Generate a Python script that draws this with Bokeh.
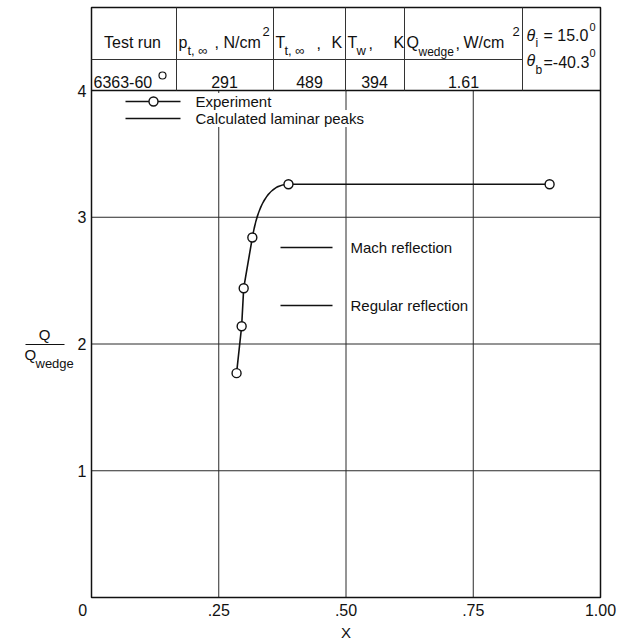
from bokeh.plotting import figure
from bokeh.models import Range1d, FixedTicker, Label
from bokeh.core.properties import value
from bokeh.embed import file_html
from bokeh.resources import INLINE

# ---------------- data ----------------
x_exp = [0.285, 0.295, 0.299, 0.316, 0.387, 0.900]
y_exp = [1.77, 2.14, 2.44, 2.84, 3.26, 3.26]
x_ticks = [0, 0.25, 0.5, 0.75, 1]
x_tick_labels = ["0\u2007\u2007", ".25", ".50", ".75", "1.00"]
y_ticks = [1, 2, 3, 4]
grid_x = [0.25, 0.5, 0.75]
grid_y = [1, 2, 3]

test_run = "6363-60"
p_total = 291
T_total = 489
T_wall = 394
Q_wedge = 1.61
theta_i = 15.0
theta_b = -40.3
legend_labels = ["Experiment", "Calculated laminar peaks",
                 "Mach reflection", "Regular reflection"]

# ---------------- layout helpers (canvas pixels -> data) ----------------
W, H = 618, 644
FL, FR, FB = 91, 600, 597      # plot box in canvas pixels
PXY = 126.75                   # pixels per y unit
PXX = FR - FL                  # pixels per x unit
def dx(px):
    return (px - FL) / PXX
def dy(py):
    return (FB - py) / PXY
TABLE_TOP = dy(7)

FONT = "Liberation Sans"
INK = "#111111"
GRID = "#2a2a2a"

p = figure(frame_width=W, frame_height=H,
           min_border_left=0, min_border_right=0,
           min_border_top=0, min_border_bottom=0,
           x_range=Range1d(dx(0), dx(W)), y_range=Range1d(dy(H), dy(0)),
           output_backend="svg", toolbar_location=None,
           background_fill_color="white", border_fill_color="white")
p.outline_line_color = None
p.xgrid.visible = False
p.ygrid.visible = False

# axes at fixed locations (the plot box corner)
for ax in (p.xaxis, p.yaxis):
    ax.fixed_location = 0
    ax.axis_line_color = None
    ax.major_tick_in = 0
    ax.major_tick_out = 0
    ax.minor_tick_in = 0
    ax.minor_tick_out = 0
    ax.major_label_text_font = FONT
    ax.major_label_text_font_size = "16px"
    ax.major_label_text_color = INK
p.xaxis.ticker = FixedTicker(ticks=x_ticks)
p.xaxis.major_label_overrides = dict(zip(x_ticks, x_tick_labels))
p.xaxis.major_label_standoff = 4
p.yaxis.ticker = FixedTicker(ticks=y_ticks)
p.yaxis.major_label_standoff = 5

# grid lines inside the plot box
p.segment(x0=grid_x, y0=[0] * len(grid_x), x1=grid_x, y1=[4] * len(grid_x),
          line_color=GRID, line_width=1)
p.segment(x0=[0] * len(grid_y), y0=grid_y, x1=[1] * len(grid_y), y1=grid_y,
          line_color=GRID, line_width=1)

# plot box + table frame
p.quad(left=[0], right=[1], bottom=[0], top=[TABLE_TOP], fill_color=None,
       line_color=INK, line_width=1.5)
p.segment(x0=[0], y0=[4], x1=[1], y1=[4], line_color=INK, line_width=1.5)

# ---------------- table ----------------
col_px = [176, 273, 345, 404]
theta_px = 522
row_px = 59
tl = "#333333"
p.segment(x0=[0], y0=[dy(row_px)], x1=[dx(theta_px)], y1=[dy(row_px)],
          line_color=tl, line_width=1)
vx = [dx(c) for c in col_px] + [dx(theta_px)]
p.segment(x0=vx, y0=[4] * len(vx), x1=vx, y1=[TABLE_TOP] * len(vx),
          line_color=tl, line_width=1)

pieces = [
    # (px, baseline_py, text, size, align, style)
    (132, 42, "Test run", 16, "center", "normal"),
    (178, 42, "p", 16, "left", "normal"),
    (187, 50, "t, \u221e", 13, "left", "normal"),
    (214, 42, ", N/cm", 16, "left", "normal"),
    (262, 31, "2", 13, "left", "normal"),
    (275, 42, "T", 16, "left", "normal"),
    (284, 50, "t, \u221e", 13, "left", "normal"),
    (316, 42, ",", 16, "left", "normal"),
    (331, 42, "K", 16, "left", "normal"),
    (347, 42, "T", 16, "left", "normal"),
    (356, 50, "w", 13, "left", "normal"),
    (368, 42, ",", 16, "left", "normal"),
    (393, 42, "K", 16, "left", "normal"),
    (406, 42, "Q", 16, "left", "normal"),
    (418, 51, "wedge", 12, "left", "normal"),
    (455, 42, ",", 16, "left", "normal"),
    (463, 42, "W/cm", 16, "left", "normal"),
    (512, 31, "2", 13, "left", "normal"),
    (526, 35, "\u03b8", 16, "left", "italic"),
    (535, 42, "i", 12, "left", "normal"),
    (543, 35, "= %.1f" % theta_i, 16, "left", "normal"),
    (589, 26, "0", 11, "left", "normal"),
    (526, 60, "\u03b8", 16, "left", "italic"),
    (535, 69, "b", 12, "left", "normal"),
    (543, 62, "=%.1f" % theta_b, 16, "left", "normal"),
    (589, 52, "0", 11, "left", "normal"),
    (93, 81, test_run, 16, "left", "normal"),
    (224, 81, "%d" % p_total, 16, "center", "normal"),
    (309, 81, "%d" % T_total, 16, "center", "normal"),
    (374, 81, "%d" % T_wall, 16, "center", "normal"),
    (463, 81, "%.2f" % Q_wedge, 16, "center", "normal"),
]
for px, py, txt, sz, al, st in pieces:
    p.text(x=[dx(px)], y=[dy(py)], text=[txt], text_font=value(FONT),
           text_font_size="%dpx" % sz, text_align=al,
           text_baseline="alphabetic", text_font_style=st, text_color=INK)
p.scatter(x=[dx(162)], y=[dy(75)], size=7, marker="circle",
          fill_color="white", line_color=INK, line_width=1.2)

# ---------------- experiment curve ----------------
slope = (y_exp[3] - y_exp[2]) / (x_exp[3] - x_exp[2])
cx = x_exp[3] + (y_exp[4] - y_exp[3]) / slope
p.line(x_exp[:4], y_exp[:4], line_color=INK, line_width=1.6)
p.quadratic(x0=[x_exp[3]], y0=[y_exp[3]], x1=[x_exp[4]], y1=[y_exp[4]],
            cx=[cx], cy=[y_exp[4]], line_color=INK, line_width=1.6)
p.line(x_exp[4:], y_exp[4:], line_color=INK, line_width=1.6)
p.scatter(x_exp, y_exp, size=9, marker="circle", fill_color="white",
          line_color=INK, line_width=1.4)

# ---------------- in-plot keys ----------------
keys = [(125, 180, 101, 195), (125, 180, 118, 195),
        (280, 332, 247, 350), (280, 332, 305, 350)]
for (xa, xb, yy, xt), lab in zip(keys, legend_labels):
    p.segment(x0=[dx(xa)], y0=[dy(yy)], x1=[dx(xb)], y1=[dy(yy)],
              line_color=INK, line_width=1.5)
    p.add_layout(Label(x=dx(xt), y=dy(yy), text=lab, text_font=FONT,
                       text_font_size="15px", text_baseline="middle",
                       text_color=INK, background_fill_color="white",
                       background_fill_alpha=1.0))
p.scatter(x=[dx(153)], y=[dy(101)], size=9, marker="circle",
          fill_color="white", line_color=INK, line_width=1.4)

# ---------------- axis titles ----------------
p.add_layout(Label(x=dx(44), y=dy(334), text="Q", text_font=FONT,
                   text_font_size="15px", text_align="center",
                   text_baseline="middle", text_color=INK))
p.segment(x0=[dx(25)], y0=[dy(344)], x1=[dx(64)], y1=[dy(344)],
          line_color=INK, line_width=1.2)
p.add_layout(Label(x=dx(24), y=dy(354), text="Q", text_font=FONT,
                   text_font_size="15px", text_baseline="middle",
                   text_color=INK))
p.add_layout(Label(x=dx(35), y=dy(363), text="wedge", text_font=FONT,
                   text_font_size="13px", text_baseline="middle",
                   text_color=INK))
p.add_layout(Label(x=0.5, y=dy(632), text="X", text_font=FONT,
                   text_font_size="15px", text_align="center",
                   text_baseline="middle", text_color=INK))

open("out.html", "w").write(file_html(p, INLINE))
